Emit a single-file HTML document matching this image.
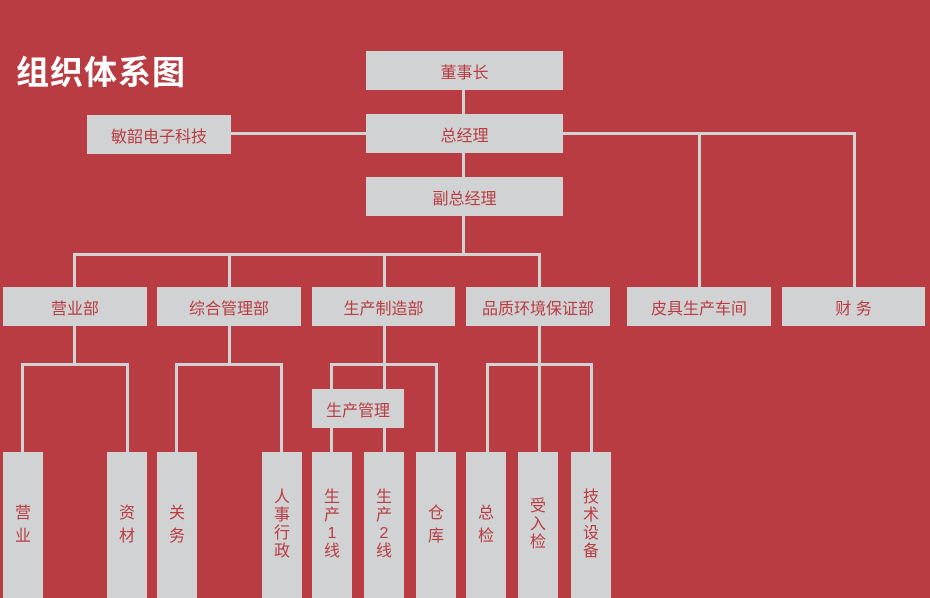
<!DOCTYPE html>
<html><head><meta charset="utf-8"><style>
html,body{margin:0;padding:0}
body{width:930px;height:598px;background:#b83c41;position:relative;overflow:hidden;font-family:"Liberation Sans","Noto Sans CJK SC",sans-serif}
.b{position:absolute;background:#d1d2d4;color:#b83c41;font-size:16px;display:flex;align-items:center;justify-content:center;box-sizing:border-box}
.v{flex-direction:column;line-height:18px;text-align:center}
.v2{line-height:23px}
.l{position:absolute;background:#d1d2d4}
.t{position:absolute;left:16px;top:46px;color:#fff;font-size:33px;font-weight:bold;letter-spacing:1px;font-family:"Noto Sans CJK SC",sans-serif}
</style></head><body>
<div class="t">组织体系图</div>
<!-- lines -->
<div class="l" style="left:462px;top:90px;width:3px;height:164px"></div>
<div class="l" style="left:231px;top:132px;width:135px;height:3px"></div>
<div class="l" style="left:563px;top:132px;width:293px;height:3px"></div>
<div class="l" style="left:698px;top:132px;width:3px;height:155px"></div>
<div class="l" style="left:853px;top:132px;width:3px;height:155px"></div>
<div class="l" style="left:73px;top:253px;width:468px;height:3px"></div>
<div class="l" style="left:73px;top:253px;width:3px;height:34px"></div>
<div class="l" style="left:228px;top:253px;width:3px;height:34px"></div>
<div class="l" style="left:383px;top:253px;width:3px;height:34px"></div>
<div class="l" style="left:538px;top:253px;width:3px;height:34px"></div>
<!-- sub groups -->
<div class="l" style="left:73px;top:326px;width:3px;height:38px"></div>
<div class="l" style="left:21px;top:363px;width:108px;height:3px"></div>
<div class="l" style="left:21px;top:363px;width:3px;height:89px"></div>
<div class="l" style="left:126px;top:363px;width:3px;height:89px"></div>
<div class="l" style="left:228px;top:326px;width:3px;height:38px"></div>
<div class="l" style="left:175px;top:363px;width:108px;height:3px"></div>
<div class="l" style="left:175px;top:363px;width:3px;height:89px"></div>
<div class="l" style="left:280px;top:363px;width:3px;height:89px"></div>
<div class="l" style="left:383px;top:326px;width:3px;height:38px"></div>
<div class="l" style="left:330px;top:363px;width:108px;height:3px"></div>
<div class="l" style="left:330px;top:363px;width:3px;height:89px"></div>
<div class="l" style="left:383px;top:363px;width:3px;height:89px"></div>
<div class="l" style="left:435px;top:363px;width:3px;height:89px"></div>
<div class="l" style="left:538px;top:326px;width:3px;height:126px"></div>
<div class="l" style="left:486px;top:363px;width:107px;height:3px"></div>
<div class="l" style="left:486px;top:363px;width:3px;height:89px"></div>
<div class="l" style="left:590px;top:363px;width:3px;height:89px"></div>
<!-- boxes -->
<div class="b" style="left:366px;top:51px;width:197px;height:39px">董事长</div>
<div class="b" style="left:366px;top:114px;width:197px;height:39px">总经理</div>
<div class="b" style="left:87px;top:115px;width:144px;height:39px">敏韶电子科技</div>
<div class="b" style="left:366px;top:177px;width:197px;height:39px">副总经理</div>
<div class="b" style="left:3px;top:287px;width:144px;height:39px">营业部</div>
<div class="b" style="left:157px;top:287px;width:144px;height:39px">综合管理部</div>
<div class="b" style="left:312px;top:287px;width:143px;height:39px">生产制造部</div>
<div class="b" style="left:466px;top:287px;width:144px;height:39px">品质环境保证部</div>
<div class="b" style="left:627px;top:287px;width:144px;height:39px">皮具生产车间</div>
<div class="b" style="left:782px;top:287px;width:143px;height:39px">财 务</div>
<div class="b" style="left:312px;top:389px;width:92px;height:39px">生产管理</div>
<div class="b v v2" style="left:3px;top:452px;width:40px;height:146px">营<br>业</div>
<div class="b v v2" style="left:107px;top:452px;width:40px;height:146px">资<br>材</div>
<div class="b v v2" style="left:157px;top:452px;width:40px;height:146px">关<br>务</div>
<div class="b v" style="left:262px;top:452px;width:40px;height:146px">人<br>事<br>行<br>政</div>
<div class="b v" style="left:312px;top:452px;width:40px;height:146px">生<br>产<br>1<br>线</div>
<div class="b v" style="left:364px;top:452px;width:40px;height:146px">生<br>产<br>2<br>线</div>
<div class="b v v2" style="left:416px;top:452px;width:40px;height:146px">仓<br>库</div>
<div class="b v v2" style="left:466px;top:452px;width:40px;height:146px">总<br>检</div>
<div class="b v" style="left:518px;top:452px;width:40px;height:146px">受<br>入<br>检</div>
<div class="b v" style="left:571px;top:452px;width:40px;height:146px">技<br>术<br>设<br>备</div>
</body></html>
